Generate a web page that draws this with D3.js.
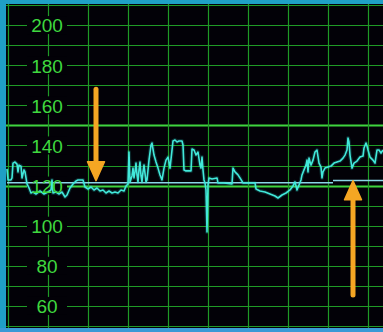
<!DOCTYPE html>
<html><head><meta charset="utf-8">
<script src="https://cdn.jsdelivr.net/npm/d3@7"></script>
<style>html,body{margin:0;padding:0;background:#000;}svg{display:block;}</style>
</head><body>
<script>
// ---- data ----
const tickValues = [60, 80, 100, 120, 140, 160, 180, 200];
const traceT = [-1,0,3,4,5,7,9,10,11,13,14,16,17,19,21,23,25,28,32,36,40,43,44,45,48,51,54,57,59,62,65,68,70,75,77,80,83,86,89,92,95,98,101,104,107,110,113,116,118,120,121,122,124,125,126,127,128,129,130,131,132,133,134,135,136,138,139,141,143,144,146,148,150,152,154,156,158,160,161,162,164,165,167,169,171,174,175,176,178,183,184,186,188,190,192,193,194,195,196,197,198,199,200,201,204,209,210,216,224,225,227,230,232,235,242,247,248,252,257,262,267,270,274,278,282,285,287,289,291,293,294,296,298,299,300,301,303,305,307,309,311,313,314,315,317,320,323,326,329,332,335,337,339,340,341,342,344,346,349,352,355,356,358,359,360,362,365,367,369,371,373,375];
const traceV = [128.3,122.8,122.8,123.8,131.2,131.7,130.7,126.8,130.2,129.7,
123.8,127.8,126.8,120.8,118.8,116.3,116.8,115.8,117.3,115.8,
116.8,117.8,122.8,116.3,116.8,115.8,116.8,114.3,115.3,118.8,
120.8,122.3,122.8,122.8,119.3,118.3,119.3,117.8,118.8,117.3,
117.8,116.3,117.3,116.3,116.8,116.3,117.8,117.3,119.8,120.8,
136.7,121.8,124.8,128.7,123.8,126.8,131.2,125.3,121.8,127.8,
131.7,124.8,121.8,126.8,130.2,121.8,122.8,132.7,140.2,141.2,
135.2,131.7,128.7,125.3,122.8,128.7,132.7,134.2,131.7,128.7,
137.7,142.2,142.7,141.7,142.2,142.2,140.2,127.8,127.3,127.3,
138.2,137.7,135.2,136.7,130.2,128.7,134.2,127.8,122.8,121.3,
117.8,96.9,120.3,123.8,123.3,123.8,121.3,121.3,120.8,128.7,
126.8,125.3,123.8,121.3,121.3,121.3,118.3,117.3,116.8,115.8,
114.8,113.8,115.3,116.3,117.8,119.8,121.8,117.8,120.3,122.8,
125.3,127.8,130.2,132.7,126.8,133.7,130.2,132.7,136.7,137.7,
131.2,129.2,123.8,126.8,128.7,129.2,129.7,131.2,131.7,132.2,
133.7,135.2,137.7,143.7,141.7,135.2,128.7,131.2,132.2,134.2,
134.7,138.7,141.2,139.7,137.7,134.2,132.7,131.2,137.7,137.7,
136.2,137.7];
const baselineStart = [-1, 325];
const baselineEnd = [325, 375];
const baselineValue = [121.4, 122.5];
const arrowT = [88, 345];
const arrowFrom = [168, 65.5];
const arrowTo = [122.4, 122.4];

// ---- layout ----
const W = 383, H = 332;
const x = d3.scaleLinear().domain([-1, 375]).range([7, 383]);
const y = d3.scaleLinear().domain([50, 210]).range([326, 5]);

const svg = d3.select("body").append("svg").attr("width", W).attr("height", H);
svg.append("rect").attr("width", W).attr("height", H).attr("fill", "#020107");

// grid
const g = svg.append("g");
const hVals = d3.range(50, 211, 10);
g.selectAll("line.h").data(hVals).join("line")
  .attr("x1", 6).attr("x2", W)
  .attr("y1", d => Math.round(y(d)) + 0.5).attr("y2", d => Math.round(y(d)) + 0.5)
  .attr("stroke", d => (d === 150 || d === 120) ? "#3ed43e" : "#1f9a26")
  .attr("stroke-width", d => (d === 150 || d === 120) ? 2 : 1.2);
const vVals = d3.range(0, 361, 40);
g.selectAll("line.v").data(vVals).join("line")
  .attr("y1", 4).attr("y2", H)
  .attr("x1", d => Math.round(x(d)) + 0.5).attr("x2", d => Math.round(x(d)) + 0.5)
  .attr("stroke", "#1f9a26").attr("stroke-width", 1.2);

// label backgrounds
const lx = x(40) - 1;
svg.append("g").selectAll("rect").data(tickValues).join("rect")
  .attr("x", lx - 20).attr("width", 40)
  .attr("y", d => y(d) - 9).attr("height", 18)
  .attr("fill", "#020107");

// baseline
svg.append("g").selectAll("line").data(baselineValue).join("line")
  .attr("x1", (d, i) => x(baselineStart[i])).attr("x2", (d, i) => x(baselineEnd[i]))
  .attr("y1", d => y(d)).attr("y2", d => y(d))
  .attr("stroke", "#8ad6e6").attr("stroke-width", 1.5);

// trace
const pts = traceT.map((t, i) => [t, traceV[i]]);
const line = d3.line().x(d => x(d[0])).y(d => y(d[1]));
svg.append("path").datum(pts).attr("d", line)
  .attr("fill", "none").attr("stroke", "#2ee0d2").attr("stroke-width", 4)
  .attr("stroke-opacity", 0.18).attr("stroke-linejoin", "round");
svg.append("path").datum(pts).attr("d", line)
  .attr("fill", "none").attr("stroke", "#42e8da").attr("stroke-width", 1.6)
  .attr("stroke-linejoin", "round");

// axis labels
const axis = d3.axisLeft(y).tickValues(tickValues).tickSize(0).tickPadding(0);
const ag = svg.append("g").attr("transform", `translate(${lx},0)`).call(axis);
ag.select(".domain").remove();
ag.selectAll("text")
  .attr("x", 0).attr("dy", "0.36em")
  .attr("text-anchor", "middle")
  .attr("fill", "#3fd83f")
  .attr("font-family", "Liberation Sans, Arial, sans-serif")
  .attr("font-size", 19);

// arrows
const ar = svg.append("g");
arrowT.forEach((t, i) => {
  const ax = x(t), y0 = y(arrowFrom[i]), y1 = y(arrowTo[i]);
  const dir = y1 > y0 ? 1 : -1;
  const headLen = 19, headW = 8.5;
  ar.append("line").attr("x1", ax).attr("x2", ax)
    .attr("y1", y0).attr("y2", y1 - dir * headLen + dir * 2)
    .attr("stroke", "#f5a623").attr("stroke-width", 5).attr("stroke-linecap", "round");
  ar.append("path")
    .attr("d", `M${ax},${y1} L${ax - headW},${y1 - dir * headLen} L${ax + headW},${y1 - dir * headLen} Z`)
    .attr("fill", "#f5a623").attr("stroke", "#f5a623").attr("stroke-linejoin", "round").attr("stroke-width", 1.5);
});

// frame
svg.append("rect").attr("x", 0).attr("y", 0).attr("width", W).attr("height", 4).attr("fill", "#1f9fc6");
svg.append("rect").attr("x", 0).attr("y", 0).attr("width", 6).attr("height", H).attr("fill", "#1f9fc6");
svg.append("rect").attr("x", 0).attr("y", 328).attr("width", W).attr("height", 4).attr("fill", "#3a9ad6");
</script>
</body></html>
